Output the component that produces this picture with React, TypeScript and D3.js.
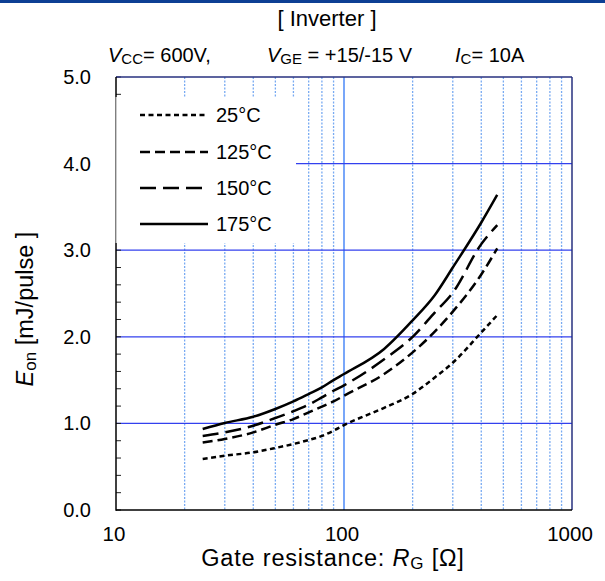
import React from 'react';
import * as d3 from 'd3';

const RG = [24, 30, 40, 50, 60, 70, 80, 90, 100, 150, 200, 250, 300, 400, 470];
const E25 = [0.59, 0.627, 0.666, 0.716, 0.762, 0.808, 0.855, 0.916, 0.98, 1.18, 1.34, 1.53, 1.7, 2.05, 2.25];
const E125 = [0.78, 0.82, 0.896, 0.985, 1.05, 1.127, 1.193, 1.254, 1.32, 1.57, 1.82, 2.06, 2.29, 2.72, 3.02];
const E150 = [0.855, 0.896, 0.973, 1.062, 1.14, 1.216, 1.3, 1.377, 1.44, 1.74, 2.0, 2.28, 2.51, 3.07, 3.29];
const E175 = [0.935, 1.005, 1.077, 1.166, 1.254, 1.339, 1.415, 1.5, 1.57, 1.86, 2.19, 2.48, 2.8, 3.32, 3.64];
const SERIES_LABELS = ['25°C', '125°C', '150°C', '175°C'];
const SERIES_VALUES = [E25, E125, E150, E175];
const DASHES = ['5,3.5', '10,5', '16,7', 'none'];
const Y_TICKS = [0, 1, 2, 3, 4, 5];
const Y_MINOR = d3.range(0, 5.001, 0.2);
const X_TICKS = [10, 100, 1000];
const X_MINOR = [20, 30, 40, 50, 60, 70, 80, 90, 200, 300, 400, 500, 600, 700, 800, 900];

const FONT = '"Liberation Sans", Arial, sans-serif';

export default function App() {
  const L = 116, R = 572, T = 77, B = 510;
  const x = d3.scaleLog().domain([10, 1000]).range([L, R]);
  const y = d3.scaleLinear().domain([0, 5]).range([B, T]);
  const line = d3
    .line<[number, number]>()
    .x((d) => x(d[0]))
    .y((d) => y(d[1]))
    .curve(d3.curveMonotoneX);

  const legX1 = 140, legX2 = 208, legTextX = 216;
  const legY = [115, 152, 188, 224];
  const legBox = { x: L, y: 97, w: 296 - L, h: 243 - 97 };

  return (
    <svg
      width={605}
      height={581}
      style={{ position: 'absolute', left: 0, top: 0, background: '#fff' }}
      fontFamily={FONT}
    >
      <rect x={0} y={0} width={605} height={581} fill="#fff" />
      <rect x={0} y={0} width={605} height={3} fill="#0d3f94" />

      {/* grid */}
      {X_MINOR.map((v) => (
        <line key={'xm' + v} x1={x(v)} x2={x(v)} y1={T} y2={B} stroke="#78aaf2" strokeWidth={1.3} strokeDasharray="2,1.5" />
      ))}
      <line x1={x(100)} x2={x(100)} y1={T} y2={B} stroke="#1f6cf5" strokeWidth={1.2} />
      {Y_TICKS.filter((v) => v > 0 && v < 5).map((v) => (
        <line key={'yg' + v} x1={L} x2={R} y1={y(v)} y2={y(v)} stroke="#3340ee" strokeWidth={1.2} />
      ))}

      {/* minor y ticks */}
      {Y_MINOR.map((v) => (
        <line key={'yt' + v} x1={L} x2={L + 5} y1={y(v)} y2={y(v)} stroke="#222" strokeWidth={1} />
      ))}

      {/* borders */}
      <line x1={L} x2={R} y1={T} y2={T} stroke="#27307f" strokeWidth={1.5} />
      <line x1={R} x2={R} y1={T} y2={B} stroke="#27307f" strokeWidth={1.5} />
      <line x1={L} x2={L} y1={T} y2={B + 0.75} stroke="#000" strokeWidth={1.5} />
      <line x1={L} x2={R} y1={B} y2={B} stroke="#000" strokeWidth={1.5} />

      {/* legend box */}
      <rect x={legBox.x} y={legBox.y} width={legBox.w} height={legBox.h} fill="#fff" />
      <line x1={L} x2={L} y1={legBox.y} y2={legBox.y + legBox.h} stroke="#aaa" strokeWidth={1.2} />
      {SERIES_LABELS.map((lab, i) => (
        <g key={lab}>
          <line
            x1={legX1}
            x2={legX2}
            y1={legY[i]}
            y2={legY[i]}
            stroke="#000"
            strokeWidth={2.5}
            strokeDasharray={DASHES[i]}
          />
          <text x={legTextX} y={legY[i] + 7} fontSize={20} fill="#000">
            {lab}
          </text>
        </g>
      ))}

      {/* curves */}
      {SERIES_VALUES.map((vals, i) => (
        <path
          key={'s' + i}
          d={line(RG.map((r, j) => [r, vals[j]] as [number, number])) || ''}
          fill="none"
          stroke="#000"
          strokeWidth={2.5}
          strokeDasharray={DASHES[i]}
        />
      ))}

      {/* y tick labels */}
      {Y_TICKS.map((v) => (
        <text key={'yl' + v} x={91} y={y(v) + 7} fontSize={20} textAnchor="end" fill="#000">
          {v.toFixed(1)}
        </text>
      ))}
      {/* x tick labels */}
      {X_TICKS.map((v) => (
        <text key={'xl' + v} x={x(v) - 2} y={541} fontSize={20.5} textAnchor="middle" fill="#000">
          {v}
        </text>
      ))}

      {/* axis titles */}
      <text x={333} y={566} fontSize={23.5} textAnchor="middle" fill="#000" letterSpacing={0.8}>
        Gate resistance: <tspan fontStyle="italic">R</tspan>
        <tspan fontSize={17} dy={3}>G</tspan>
        <tspan dy={-3}> [Ω]</tspan>
      </text>
      <text transform="translate(33,309) rotate(-90)" fontSize={23.5} textAnchor="middle" fill="#000">
        <tspan fontStyle="italic">E</tspan>
        <tspan fontSize={17} dy={3}>on</tspan>
        <tspan dy={-3}> [mJ/pulse ]</tspan>
      </text>

      {/* titles */}
      <text x={327} y={26} fontSize={22} textAnchor="middle" fill="#000">
        [ Inverter ]
      </text>
      <text y={61.5} fontSize={20} fill="#000">
        <tspan x={108} fontStyle="italic">V</tspan>
        <tspan fontSize={15} dy={2.5}>CC</tspan>
        <tspan dy={-2.5}>= 600V,</tspan>
        <tspan x={267} fontStyle="italic">V</tspan>
        <tspan fontSize={15} dy={2.5}>GE</tspan>
        <tspan dy={-2.5}> = +15/-15 V</tspan>
        <tspan x={455} fontStyle="italic">I</tspan>
        <tspan fontSize={15} dy={2.5}>C</tspan>
        <tspan dy={-2.5}>= 10A</tspan>
      </text>
    </svg>
  );
}
